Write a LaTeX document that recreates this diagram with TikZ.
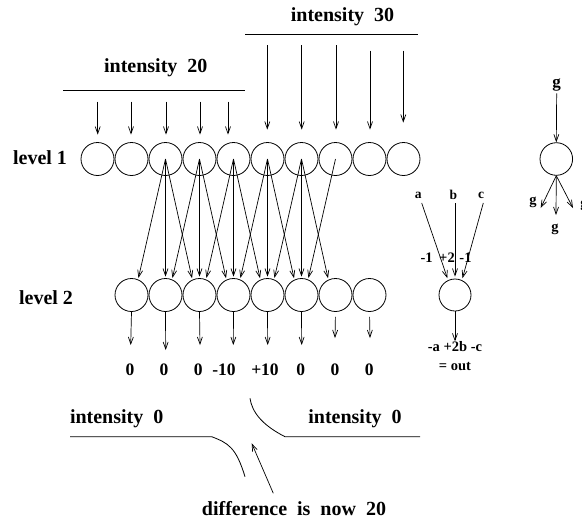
\documentclass[tikz,border=0pt]{standalone}
\usepackage{fontspec}
\setmainfont{Liberation Serif}
\usetikzlibrary{arrows.meta}
\newcommand{\wgap}{\hspace{0.5em}}
\begin{document}
\begin{tikzpicture}[x=1pt,y=-1pt,
  big/.style={font=\fontsize{20}{24}\selectfont\bfseries, inner sep=0pt},
  num/.style={font=\fontsize{17.5}{20}\selectfont\bfseries, inner sep=0pt},
  small/.style={font=\fontsize{14.5}{17}\selectfont\bfseries, inner sep=0pt},
  tiny/.style={font=\fontsize{13.5}{16}\selectfont\bfseries, inner sep=0pt},
  cell/.style={circle, draw, line width=0.8pt, minimum size=33pt, inner sep=0pt},
  arr/.style={-{Straight Barb[length=7pt,width=5pt]}, line width=0.7pt},
  ln/.style={line width=0.8pt}]
\useasboundingbox (0,0) rectangle (582,523);

% titles and level labels
\node[big] (i30) at (342.5,16.7) {intensity\wgap 30};
\node[big] (i20) at (155.8,68) {intensity\wgap 20};
\node[big] (lv1) at (40,158) {level 1};
\node[big] (lv2) at (46,298) {level 2};
\draw[ln] (245,34) -- (418,34);
\draw[ln] (63.3,90.7) -- (245,90.7);

% level 1 and level 2 cells
\foreach \i in {0,...,9} \node[cell] (L1-\i) at ({97.5+34*\i},159) {};
\foreach \i in {1,...,8} \node[cell] (L2-\i) at ({97.5+34*\i},295) {};

% input arrows (intensity 20)
\foreach \x/\i in {97.7/0,131/1,166/2,200/3,228/4} {
  \coordinate (t\i) at (\x,101.7);
  \draw[arr, shorten >=7.5pt] (t\i) -- (t\i |- L1-\i.north);
}
% input arrows (intensity 30)
\foreach \x/\y/\s/\i in {267.3/45/12.5/5,301.7/45/12.5/6,336/45/12.5/7,370/50.7/12.5/8,403.3/50.7/19.5/9} {
  \coordinate (t\i) at (\x,\y);
  \draw[arr, shorten >=\s pt] (t\i) -- (t\i |- L1-\i.north);
}

% level 1 -> level 2
\foreach \i in {2,...,6} {
  \pgfmathtruncatemacro\l{\i-1}
  \pgfmathtruncatemacro\r{\i+1}
  \draw[arr, shorten >=1.5pt] (L1-\i.center) -- (L2-\l.67);
  \draw[arr, shorten >=1.5pt] (L1-\i.center) -- (L2-\i.north);
  \draw[arr, shorten >=1.5pt] (L1-\i.center) -- (L2-\r.115);
}
\draw[arr, shorten >=1.5pt] (L1-7.center) -- (L2-6.67);

% outputs
\foreach \x/\y/\i in {130.7/345/1,165.7/350/2,200/345/3,233.3/345/4,267.7/345/5,301.7/345/6} {
  \coordinate (o\i) at (\x,\y);
  \draw[arr] (L2-\i.south) -- (o\i);
}
\foreach \x/\y/\i in {335/338/7,370/338/8} {
  \coordinate (o\i) at (\x,\y);
  \draw[arr, shorten <=5pt] (L2-\i.south) -- (o\i);
}
\node[num] (n1) at (130,370) {0};
\node[num] (n2) at (164,370) {0};
\node[num] (n3) at (198.3,370) {0};
\node[num] (n4) at (224,370) {-10};
\node[num] (n5) at (265,370) {+10};
\node[num] (n6) at (300.7,370) {0};
\node[num] (n7) at (335,370) {0};
\node[num] (n8) at (369.3,370) {0};

% bottom: intensity 0 and difference
\node[big] (z1) at (116.7,419) {intensity\wgap 0};
\node[big] (z2) at (355,419) {intensity\wgap 0};
\draw[ln] (70,436.7) -- (211.7,436.7) .. controls (228,443) and (236,447) .. (245,476.7);
\draw[ln] (250,398.3) .. controls (252,412) and (262,425) .. (285,436.7) -- (420,436.7);
\node[big] (diff) at (294,509) {difference\wgap is\wgap now\wgap 20};
\coordinate (dS) at (273.3,493.3);
\coordinate (dT) at (251.7,443.3);
\draw[arr] (dS) -- (dT);

% weighted sum example
\node[tiny] (a) at (418.3,195) {a};
\node[tiny] (b) at (453.3,195) {b};
\node[tiny] (c) at (481,195) {c};
\node[cell, minimum size=32pt] (R) at (455,295) {};
\draw[arr, shorten >=2pt] (421.7,203) coordinate (aS) -- (R.115);
\draw[arr, shorten >=2pt] (aS -| R.north) coordinate (bS) -- (R.north);
\draw[arr, shorten >=2pt] (483.3,203) coordinate (cS) -- (R.65);
\node[small] (w1) at (426.7,258) {-1};
\node[small] (w2) at (447,258) {+2};
\node[small] (w3) at (465.5,258) {-1};
\node[small] (out1) at (455,346.7) {-a +2b -c};
\node[small] (out2) at (455,367) {= out};
\draw[arr] (R.south) -- (out1.north);

% g fan-out example
\node[font=\fontsize{17}{20}\selectfont\bfseries, inner sep=0pt] (g0) at (556.7,85) {g};
\node[cell, minimum size=32.6pt] (G) at (556.3,159) {};
\draw[arr, shorten <=2pt] (g0.south) -- (G.north);
\coordinate (gl) at (540.7,208);
\coordinate (gm) at (556,215);
\coordinate (gr) at (573,208);
\draw[arr] (G.south) -- (gl);
\draw[arr] (G.south) -- (gm);
\draw[arr] (G.south) -- (gr);
\node[small] (g1) at (533,202) {g};
\node[small] (g2) at (555,229) {g};
\node[small] (g3) at (584,205) {g};
\end{tikzpicture}
\end{document}
